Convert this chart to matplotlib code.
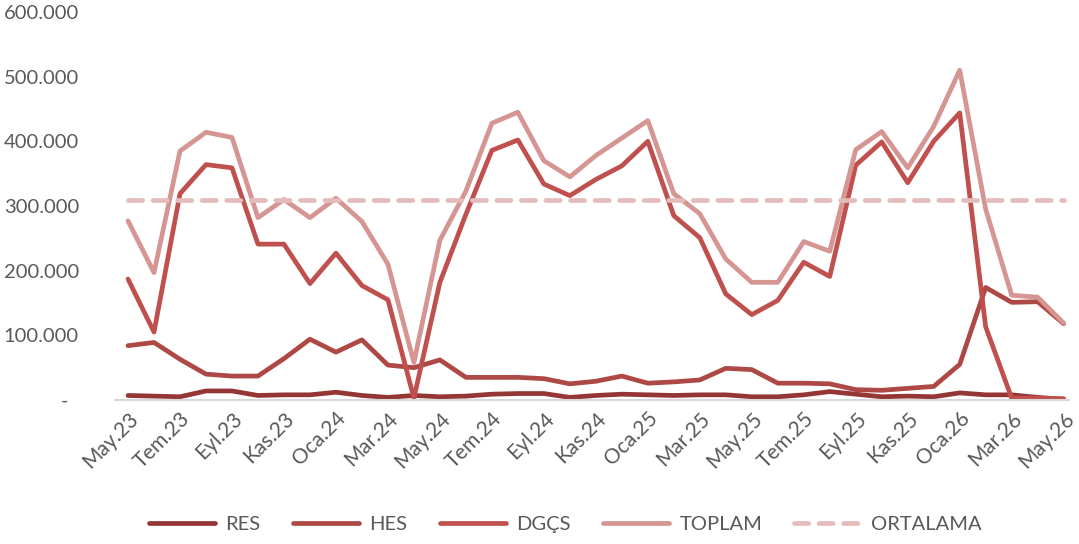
import numpy as np
import matplotlib
matplotlib.use("Agg")
import matplotlib.pyplot as plt

plt.rcParams['font.family'] = ['Lato', 'DejaVu Sans']

# ───── data (thousands) ──────────────────────────────────────────────────
labels = ["May.23", "Haz.23", "Tem.23", "Ağu.23", "Eyl.23", "Eki.23",
          "Kas.23", "Ara.23", "Oca.24", "Şub.24", "Mar.24", "Nis.24",
          "May.24", "Haz.24", "Tem.24", "Ağu.24", "Eyl.24", "Eki.24",
          "Kas.24", "Ara.24", "Oca.25", "Şub.25", "Mar.25", "Nis.25",
          "May.25", "Haz.25", "Tem.25", "Ağu.25", "Eyl.25", "Eki.25",
          "Kas.25", "Ara.25", "Oca.26", "Şub.26", "Mar.26", "Nis.26",
          "May.26"]

res = [7, 6, 5, 14, 14, 7, 8, 8, 12, 7, 4, 7,
       5, 6, 9, 10, 10, 4, 7, 9, 8, 7, 8, 8,
       5, 5, 8, 13, 9, 5, 6, 5, 11, 8, 8, 4, 1]
hes = [84, 89, 63, 40, 37, 37, 64, 94, 74, 93, 54, 50,
       62, 35, 35, 35, 33, 25, 29, 37, 26, 28, 31, 49,
       47, 26, 26, 25, 16, 15, 18, 21, 55, 174, 151, 152, 118]
dgcs = [187, 105, 319, 364, 359, 241, 241, 180, 227, 177, 155, 3,
        182, 287, 386, 402, 334, 316, 341, 362, 400, 285, 251, 164,
        132, 154, 213, 191, 363, 399, 336, 400, 444, 113, 3, 3, 2]
toplam = [277, 197, 385, 414, 406, 282, 310, 282, 312, 276, 210, 58,
          247, 323, 428, 445, 370, 345, 378, 405, 432, 319, 288, 218,
          182, 182, 245, 230, 387, 415, 359, 423, 510, 295, 162, 159, 119]
ortalama = 310

res, hes, dgcs, toplam = (np.array(v) * 1000 for v in (res, hes, dgcs, toplam))
x = np.arange(len(labels))

# ───── plot ─────────────────────────────────────────────────────────────
fig = plt.figure(figsize=(10.79, 5.44), dpi=100)
ax = fig.add_axes([0.1066, 0.2647, 0.884, 0.7133])

LW = 3.4
ax.plot(x, res, color="#943634", lw=LW, label="RES", solid_capstyle="round")
ax.plot(x, hes, color="#AE4845", lw=LW, label="HES", solid_capstyle="round")
ax.plot(x, dgcs, color="#C0504D", lw=LW, label="DGÇS", solid_capstyle="round")
ax.plot(x, toplam, color="#D59593", lw=LW, label="TOPLAM", solid_capstyle="round")
ax.plot(x, np.full(len(x), ortalama * 1000), color="#E3BCBB", lw=LW,
        ls=(0, (3, 2.2)), dash_capstyle="round", label="ORTALAMA")

ax.set_xlim(-0.5, 36.2)
ax.set_ylim(0, 600000)
ax.set_yticks(np.arange(0, 600001, 100000))
ax.set_yticklabels(["-  "] + [f"{v:,}".replace(",", ".")
                              for v in range(100000, 600001, 100000)])
ax.set_xticks(x[::2])
ax.set_xticklabels(labels[::2], rotation=45, ha="right", va="top",
                   rotation_mode="anchor")

for s in ("top", "right", "left"):
    ax.spines[s].set_visible(False)
ax.spines["bottom"].set_color("#D9D9D9")
ax.spines["bottom"].set_linewidth(1.5)
ax.tick_params(axis="both", length=0, colors="#595959")
ax.tick_params(axis="y", pad=26, labelsize=14.5)
ax.tick_params(axis="x", pad=6, labelsize=15)

leg = ax.legend(loc="center", bbox_to_anchor=(0.472, -0.32), ncol=5,
                frameon=False, fontsize=14.5, handlelength=3.3,
                columnspacing=1.6, handletextpad=0.5)
for t in leg.get_texts():
    t.set_color("#595959")

fig.savefig("out.png", dpi=100)
